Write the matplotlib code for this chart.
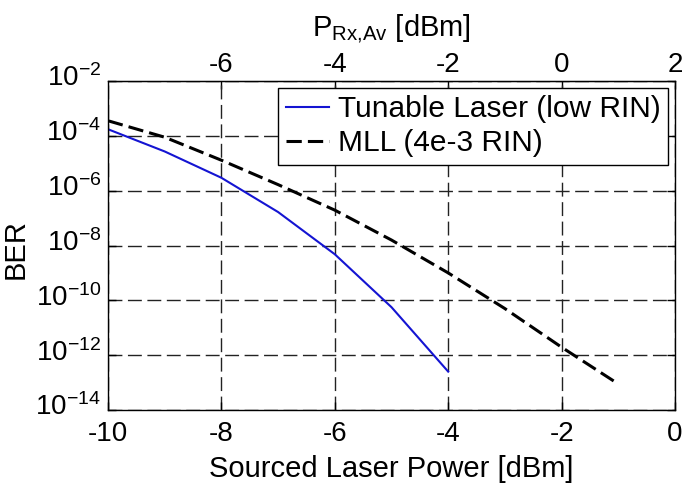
import numpy as np
import matplotlib
matplotlib.use("Agg")
import matplotlib.pyplot as plt
from matplotlib.ticker import FixedLocator, NullLocator
from matplotlib.transforms import ScaledTranslation

# data
power_tunable = [-10, -9, -8, -7, -6, -5, -4]
ber_tunable = [1.74e-4, 2.69e-5, 2.95e-6, 1.66e-7, 4.79e-9, 5.62e-11, 2.51e-13]

power_mll = [-10, -9, -8, -7, -6, -5, -4, -3, -2, -1]
ber_mll = [3.55e-4, 8.9e-5, 1.29e-5, 1.66e-6, 1.95e-7, 1.58e-8, 1.0e-9, 5.0e-11, 1.95e-12, 8.9e-14]

bottom_ticks = [-10, -8, -6, -4, -2, 0]
top_ticks = [-6, -4, -2, 0, 2]
ber_ticks = [1e-2, 1e-4, 1e-6, 1e-8, 1e-10, 1e-12, 1e-14]
rx_offset = 2  # P_Rx,Av = sourced power + 2 dB


def main():
    plt.rcParams["font.family"] = ["Liberation Sans", "DejaVu Sans"]
    plt.rcParams["mathtext.fontset"] = "custom"
    plt.rcParams["mathtext.rm"] = "Liberation Sans"
    plt.rcParams["mathtext.it"] = "Liberation Sans"
    plt.rcParams["axes.unicode_minus"] = False
    plt.rcParams["font.size"] = 20

    fig = plt.figure(figsize=(6.85, 4.87), dpi=100)
    ax = fig.add_axes([108 / 685, 1 - 410 / 487, 567 / 685, 329 / 487])

    ax.plot(power_tunable, ber_tunable, color="#1414d2", lw=1.5,
            label="Tunable Laser (low RIN)")
    ax.plot(power_mll, ber_mll, color="black", lw=2.2, linestyle=(0, (5, 2)),
            label="MLL (4e-3 RIN)")

    ax.set_yscale("log")
    ax.set_xlim(-10, 0)
    ax.set_ylim(1e-14, 1e-2)
    ax.xaxis.set_major_locator(FixedLocator(bottom_ticks))
    ax.yaxis.set_major_locator(FixedLocator(ber_ticks))
    ax.yaxis.set_minor_locator(NullLocator())
    ax.grid(True, color="#222222", lw=1.0, linestyle=(0, (10, 4)))
    ax.tick_params(direction="in", length=6, width=1, right=True,
                   labelsize=20)
    ax.tick_params(axis="x", pad=8)
    ax.tick_params(axis="y", pad=5)
    for sp in ax.spines.values():
        sp.set_linewidth(1.0)

    ax.set_xlabel("Sourced Laser Power [dBm]", fontsize=21, labelpad=6)
    ax.set_ylabel("BER", fontsize=21)
    ax.yaxis.set_label_coords(-0.138, 0.49)

    top = ax.secondary_xaxis("top", functions=(lambda x: x + rx_offset,
                                                lambda x: x - rx_offset))
    top.set_xticks(top_ticks)
    top.tick_params(direction="in", length=6, width=1, pad=2, labelsize=20)
    top.set_xlabel(r"P$_{\mathrm{Rx{,}Av}}$ [dBm]", fontsize=21, labelpad=12)

    leg = ax.legend(loc="upper right", bbox_to_anchor=(0.988, 0.979),
                    borderaxespad=0, handlelength=1.45, handletextpad=0.3,
                    labelspacing=0.2, borderpad=0.25, fancybox=False,
                    framealpha=1, edgecolor="black", fontsize=21.5)
    leg.get_frame().set_linewidth(1.0)

    # MATLAB centres the "10" on the tick, not the whole label
    shift = ScaledTranslation(0, 4 / 72, fig.dpi_scale_trans)
    for lab in ax.get_yticklabels():
        lab.set_transform(lab.get_transform() + shift)

    fig.savefig("out.png", dpi=100)
    plt.close(fig)


if __name__ == "__main__":
    main()
